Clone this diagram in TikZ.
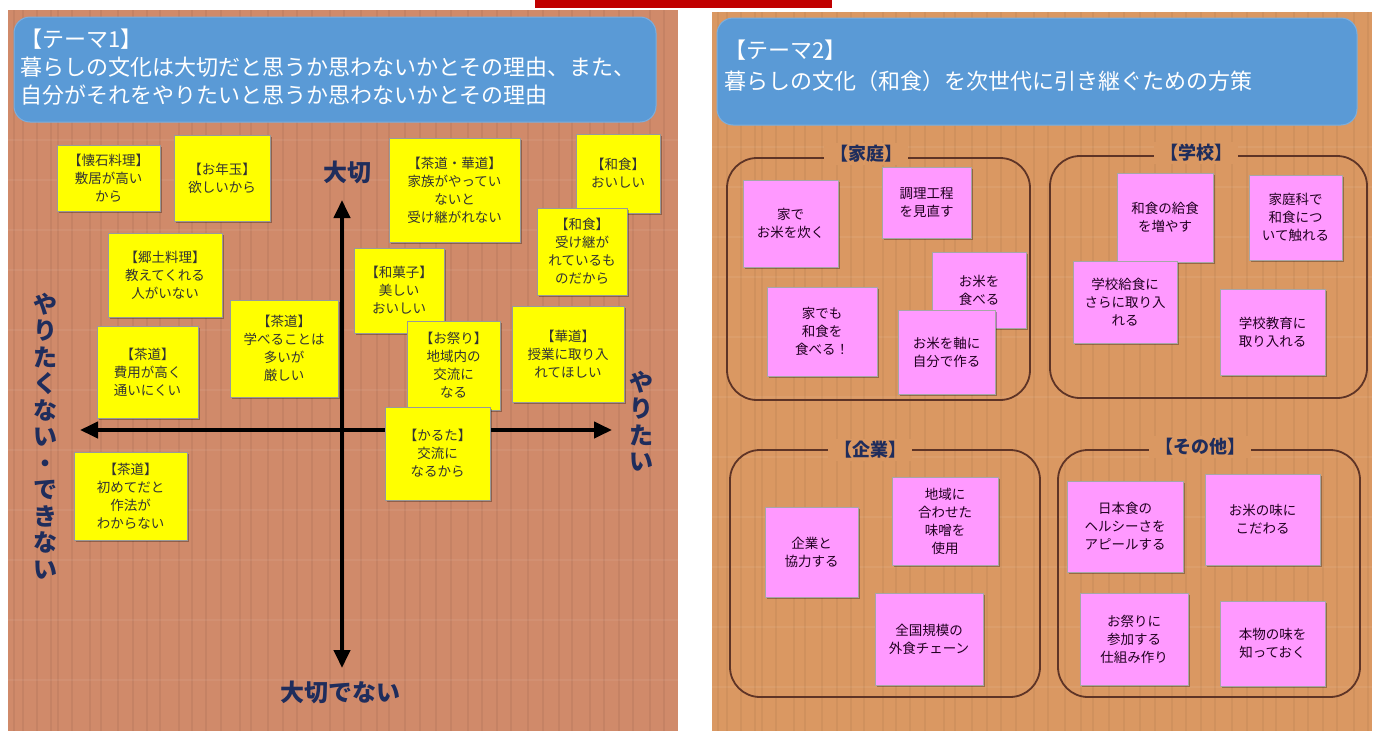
\documentclass[tikz,border=0pt]{standalone}
\usepackage{fontspec}
\setmainfont{Noto Sans CJK JP}
\usetikzlibrary{arrows.meta,shadows}
\definecolor{woodL}{HTML}{D08A6A}
\definecolor{woodR}{HTML}{DA9862}
\definecolor{hdr}{HTML}{5A9AD6}
\definecolor{navy}{HTML}{1F2D5C}
\definecolor{stick}{HTML}{FFFF00}
\definecolor{pinkn}{HTML}{FF99FF}
\definecolor{grpline}{HTML}{5E3426}
\definecolor{redbar}{HTML}{C00000}
\tikzset{
  ynote/.style={draw=black!40, line width=0.8pt, fill=stick, align=center,
    font=\fontsize{13.5}{18}\selectfont, text=black!80, inner sep=1pt,
    drop shadow={shadow xshift=2pt,shadow yshift=-2pt,opacity=0.3,fill=black}},
  pnote/.style={draw=black!35, line width=0.8pt, fill=pinkn, align=center,
    font=\fontsize{13.5}{18}\selectfont, text=black!75!violet, inner sep=1pt,
    drop shadow={shadow xshift=2pt,shadow yshift=-2pt,opacity=0.3,fill=black}},
  hdrbox/.style={fill=hdr, rounded corners=16pt, draw=hdr!80!white, line width=1pt},
  hdrtext/.style={text=white, align=left, anchor=north west, inner sep=0pt,
    font=\fontsize{22}{28}\selectfont},
  axlab/.style={text=navy, font=\bfseries\fontsize{24}{26.5}\selectfont, align=center, inner sep=0pt},
  axis/.style={line width=4pt, black, {Triangle[length=18pt,width=16pt]}-{Triangle[length=18pt,width=16pt]}},
  grp/.style={draw=grpline, line width=1.8pt, rounded corners=30pt},
  grptitle/.style={text=navy, font=\bfseries\fontsize{18}{20}\selectfont, inner xsep=6pt, inner ysep=2pt},
}
\newcommand\stk[7]{\node[#1, minimum width={(#5-#3)*1pt}, minimum height={(#6-#4)*1pt}] (#2) at ({(#3+#5)/2},{(#4+#6)/2}) {#7};}
\begin{document}
\begin{tikzpicture}[x=1pt,y=-1pt]
\useasboundingbox (0,0) rectangle (1387,731);
\fill[white] (0,0) rectangle (1387,731);
% red bar
\fill[redbar] (535,0) rectangle (832,8);
% panels
\fill[woodL] (8,10) rectangle (678,731);
\fill[woodR] (712,12) rectangle (1372,731);
\foreach \x in {14,23,37,51,58,72,90,101,118,133,147,160,179,192,206,221,240,251,268,283,297,312,330,344,361,377,389,405,420,436,451,468,482,497,511,528,543,559,572,590,604,619,633,650,664}{
  \draw[black, opacity=0.05, line width=1.5pt] (\x,10) -- (\x,731);
  \draw[black, opacity=0.045, line width=1.5pt] ({\x+704},12) -- ({\x+704},731);
}
\foreach \y in {140,180,230,270,330,390,450,510,560,620,680}{
  \draw[white, opacity=0.06, line width=2pt] (8,\y) -- (678,\y);
  \draw[white, opacity=0.06, line width=2pt] (712,\y+7) -- (1372,\y+7);
}
% headers
\draw[hdrbox] (14,17) rectangle (656,122);
\draw[hdrbox] (717,18) rectangle (1357,125);
\node[hdrtext] (h1) at (20,29) {【テーマ1】\\暮らしの文化は大切だと思うか思わないかとその理由、また、\\自分がそれをやりたいと思うか思わないかとその理由};
\node[hdrtext] (h2) at (724,40) {【テーマ2】\\[3pt]暮らしの文化（和食）を次世代に引き継ぐための方策};
% axes
\coordinate (vtop) at (342,200);
\coordinate (vbot) at (342,668);
\coordinate (hl) at (80,430);
\coordinate (hr) at (612,430);
\draw[axis] (vbot) -- (vtop);
\draw[axis] (hl) -- (hr);
\node[axlab] (imp) at (347,172) {大切};
\node[axlab] (notimp) at (340,692) {大切でない};
\node[axlab] (want) at (641,421) {や\\り\\た\\い};
\node[axlab] (nowant) at (45,436) {や\\り\\た\\く\\な\\い\\・\\で\\き\\な\\い};
% yellow notes
\stk{ynote}{n1}{57}{145}{160}{211}{【懐石料理】\\敷居が高い\\から}
\stk{ynote}{n2}{174}{135}{270}{221}{【お年玉】\\欲しいから}
\stk{ynote}{n3}{108}{233}{222}{317}{【郷土料理】\\教えてくれる\\人がいない}
\stk{ynote}{n4}{230}{300}{338}{397}{【茶道】\\学べることは\\多いが\\厳しい}
\stk{ynote}{n5}{97}{326}{198}{418}{【茶道】\\費用が高く\\通いにくい}
\stk{ynote}{n6}{74}{452}{187}{540}{【茶道】\\初めてだと\\作法が\\わからない}
\stk{ynote}{n7}{389}{138}{520}{242}{【茶道・華道】\\家族がやってい\\ないと\\受け継がれない}
\stk{ynote}{n8}{576}{134}{660}{213}{【和食】\\おいしい}
\stk{ynote}{n9}{537}{208}{627}{295}{【和食】\\受け継が\\れているも\\のだから}
\stk{ynote}{n10}{354}{248}{444}{333}{【和菓子】\\美しい\\おいしい}
\stk{ynote}{n12}{512}{306}{624}{402}{【華道】\\授業に取り入\\れてほしい}
\stk{ynote}{n11}{407}{321}{500}{410}{【お祭り】\\地域内の\\交流に\\なる}
\stk{ynote}{n13}{385}{407}{490}{500}{【かるた】\\交流に\\なるから}
% groups
\draw[grp] (727,158) rectangle (1030,400);
\draw[grp] (1050,156) rectangle (1367,398);
\draw[grp] (730,450) rectangle (1040,697);
\draw[grp] (1058,450) rectangle (1360,697);
\node[grptitle, fill=woodR] (g1) at (866,154) {【家庭】};
\node[grptitle, fill=woodR] (g2) at (1196,153) {【学校】};
\node[grptitle, fill=woodR] (g3) at (870,450) {【企業】};
\node[grptitle, fill=woodR] (g4) at (1200,447) {【その他】};
% pink notes
\stk{pnote}{p1}{743}{180}{838}{267}{家で\\お米を炊く}
\stk{pnote}{p2}{882}{167}{971}{238}{調理工程\\を見直す}
\stk{pnote}{p3}{932}{252}{1026}{328}{お米を\\食べる}
\stk{pnote}{p4}{767}{287}{877}{376}{家でも\\和食を\\食べる！}
\stk{pnote}{p5}{898}{310}{995}{394}{お米を軸に\\自分で作る}
\stk{pnote}{p6}{1117}{173}{1213}{262}{和食の給食\\を増やす}
\stk{pnote}{p7}{1249}{175}{1342}{260}{家庭科で\\和食につ\\いて触れる}
\stk{pnote}{p8}{1073}{261}{1177}{343}{学校給食に\\さらに取り入\\れる}
\stk{pnote}{p9}{1220}{289}{1325}{375}{学校教育に\\取り入れる}
\stk{pnote}{p10}{765}{507}{858}{597}{企業と\\協力する}
\stk{pnote}{p11}{892}{477}{998}{565}{地域に\\合わせた\\味噌を\\使用}
\stk{pnote}{p12}{875}{593}{983}{685}{全国規模の\\外食チェーン}
\stk{pnote}{p13}{1067}{481}{1183}{572}{日本食の\\ヘルシーさを\\アピールする}
\stk{pnote}{p14}{1205}{474}{1320}{565}{お米の味に\\こだわる}
\stk{pnote}{p15}{1080}{593}{1188}{685}{お祭りに\\参加する\\仕組み作り}
\stk{pnote}{p16}{1220}{601}{1325}{686}{本物の味を\\知っておく}
\end{tikzpicture}
\end{document}
